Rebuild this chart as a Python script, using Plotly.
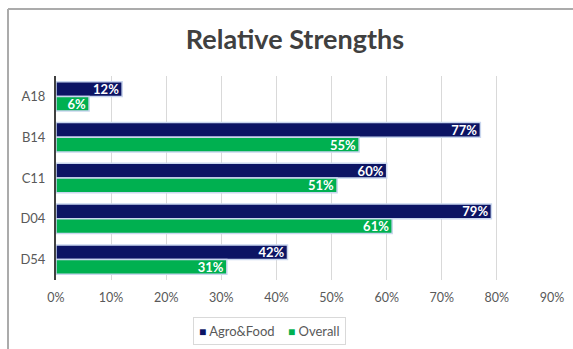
import plotly.graph_objects as go

categories = ["A18", "B14", "C11", "D04", "D54"]
agro_food = [0.12, 0.77, 0.60, 0.79, 0.42]
overall = [0.06, 0.55, 0.51, 0.61, 0.31]
series_names = ["Agro&Food", "Overall"]
series_colors = ["#0C1464", "#00B050"]
tick_vals = [0, 0.1, 0.2, 0.3, 0.4, 0.5, 0.6, 0.7, 0.8, 0.9]
tick_text = ["0%", "10%", "20%", "30%", "40%", "50%", "60%", "70%", "80%", "90%"]

W, H = 573, 349
ml, mr, mt, mb = 56, 21, 76, 69
pw, ph = W - ml - mr, H - mt - mb

def px_x(x):
    return (x - ml) / pw

def px_y(y):
    return (H - mb - y) / ph

font = "Lato, 'Open Sans', sans-serif"
fig = go.Figure()
for name, vals, color in zip(series_names, [agro_food, overall], series_colors):
    fig.add_trace(go.Bar(
        y=categories, x=vals, name=name, orientation="h",
        marker=dict(color=color, line=dict(color="#C9D6EE", width=1.5)),
        text=[f"{round(v*100)}%" for v in vals],
        textposition="inside", insidetextanchor="end", constraintext="none",
        textfont=dict(color="white", size=13, family=font, weight="bold"),
        hoverinfo="skip", showlegend=False,
    ))

legend_text = "    ".join(
    f"<span style='color:{c};font-size:12px'>■</span> {n}" for n, c in zip(series_names, series_colors)
)

fig.update_layout(
    width=W, height=H, margin=dict(l=ml, r=mr, t=mt, b=mb, autoexpand=False),
    paper_bgcolor="white", plot_bgcolor="white",
    barmode="group", bargap=0.28, bargroupgap=0.0,
    title=dict(text="<b>Relative Strengths</b>", xref="container", x=295 / W, xanchor="center",
               yref="container", y=1 - 40 / H, yanchor="middle",
               font=dict(size=27, color="#404040", family=font)),
    xaxis=dict(range=[0, 0.9], tickvals=tick_vals, ticktext=tick_text, showgrid=True,
               gridcolor="#D9D9D9", gridwidth=1, zeroline=False, showline=False,
               tickfont=dict(size=12.5, color="#595959", family=font), ticks="", ticklabelstandoff=8),
    yaxis=dict(autorange="reversed", showline=True, linecolor="#404040", linewidth=2,
               tickfont=dict(size=13, color="#595959", family=font), ticks="", ticklabelstandoff=6),
    showlegend=False,
    annotations=[dict(text=legend_text, xref="paper", yref="paper", x=px_x(269), y=px_y(331),
                      xanchor="center", yanchor="middle", showarrow=False,
                      font=dict(size=13, color="#595959", family=font),
                      bordercolor="#D9D9D9", borderwidth=1, borderpad=5, bgcolor="white")],
)
fig.add_shape(type="line", xref="paper", yref="paper", x0=px_x(8), x1=px_x(W + 5), y0=px_y(9), y1=px_y(9),
              line=dict(color="#ABABAB", width=2))
fig.add_shape(type="line", xref="paper", yref="paper", x0=px_x(8), x1=px_x(8), y0=px_y(9), y1=px_y(H + 5),
              line=dict(color="#ABABAB", width=2))
fig.write_html("out.html")
